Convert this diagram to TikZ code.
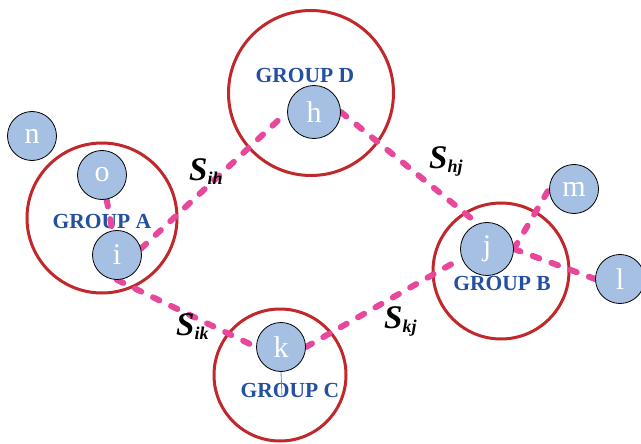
\documentclass[tikz,border=0pt]{standalone}
\usepackage{fontspec}
\setmainfont{Liberation Serif}
\pgfdeclarelayer{bg}
\pgfsetlayers{bg,main}
\definecolor{ringred}{HTML}{C0282C}
\definecolor{grpblue}{HTML}{2350A0}
\definecolor{linkpink}{HTML}{E8489B}
\definecolor{dotfill}{HTML}{A6C0E3}
\definecolor{stemblue}{HTML}{5B8BC9}
\tikzset{
	member/.style={circle,draw=black,line width=0.8pt,fill=dotfill,text=white,inner sep=0pt,minimum size=49pt,font=\fontsize{30}{30}\selectfont},
	bigmember/.style={member,minimum size=53pt},
	ring/.style={circle,draw=ringred,line width=3pt,inner sep=0pt},
	grouplabel/.style={text=grpblue,font=\fontsize{21.5}{21.5}\selectfont\bfseries,anchor=base,inner sep=0pt},
	link/.style={draw=linkpink,line width=6pt,line cap=round,dash pattern=on 7pt off 13pt},
	simlabel/.style={anchor=base west,inner sep=0pt,font=\bfseries\itshape}
}
\newcommand{\simval}[1]{{\fontsize{33}{33}\selectfont S}\raisebox{-4pt}{\fontsize{18}{18}\selectfont #1}}
\begin{document}
\begin{tikzpicture}[x=1pt,y=-1pt]
			\useasboundingbox (0,0) rectangle (641,444);
			% groups
			\begin{pgfonlayer}{bg}
			\node[ring,minimum size=150pt] (ringA) at (102,218) {};
			\node[ring,minimum size=136pt] (ringB) at (501,271) {};
			\node[ring,minimum size=132pt] (ringC) at (280,375) {};
			\node[ring,minimum size=165pt] (ringD) at (311,93) {};
			\node[grouplabel] (labA) at (102,228) {GROUP A};
			\node[grouplabel] (labB) at (502,290) {GROUP B};
			\node[grouplabel] (labC) at (290,397) {GROUP C};
			\node[grouplabel] (labD) at (305,83) {GROUP D};
			\end{pgfonlayer}
			% members
			\node[member] (n) at (32,136) {n};
			\node[member] (o) at (102,175) {o};
			\node[member] (i) at (117,255) {i};
			\node[bigmember] (h) at (314,112) {h};
			\node[bigmember] (j) at (487,249) {j};
			\node[member] (m) at (574,189) {m};
			\node[member] (l) at (620,279) {l};
			\node[member] (k) at (281,347) {k};
			\coordinate (kfoot) at (282,397);
			\draw[stemblue,line width=0.8pt] (k.south) -- (kfoot);
			% links
			\begin{pgfonlayer}{bg}
			\draw[link] (o) -- (i);
			\draw[link] (i.15) -- (h.west);
			\draw[link] (i.south) -- (k.west);
			\draw[link] (k.east) -- (j.200);
			\draw[link] (h.east) -- (j.110);
			\draw[link] (j.east) -- (l.west);
			\draw[link] (j.east) -- (m.west);
			\end{pgfonlayer}
			\node[simlabel] (sih) at (189,180) {\simval{ih}};
			\node[simlabel] (shj) at (429,168) {\simval{hj}};
			\node[simlabel] (sik) at (176,335) {\simval{ik}};
			\node[simlabel] (skj) at (384,328) {\simval{kj}};
		\end{tikzpicture}
\end{document}
